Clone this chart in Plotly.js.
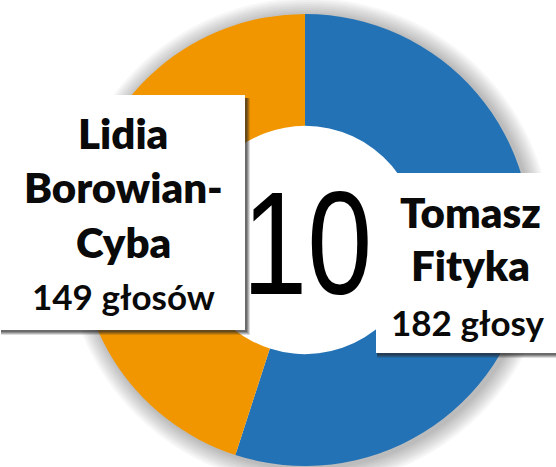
<!DOCTYPE html>
<html>
<head>
<meta charset="utf-8">
<script src="https://cdn.plot.ly/plotly-3.0.1.min.js"></script>
<style>
html,body{margin:0;padding:0;background:#fff;}
#chart{width:556px;height:467px;}
</style>
</head>
<body>
<div id="chart"></div>
<script>
// ---- data ----
const candidates = ["Tomasz Fityka", "Lidia Borowian-Cyba"];
const nameLines = [["Tomasz", "Fityka"], ["Lidia", "Borowian-", "Cyba"]];
const votes = [182, 149];
const voteWords = ["głosy", "głosów"];
const centerLabel = "10";
const sliceColors = ["#2372B5", "#F29600"];

// ---- layout helpers (pixel -> paper) ----
const W = 556, H = 467;
const px = x => x / W;
const py = y => 1 - y / H;

const cx = 305, cy = 240, R = 226;

const shapes = [];
// soft halo around ring
for (let i = 1; i <= 9; i++) {
  const r = R + i * 2;
  shapes.push({type: "circle", xref: "paper", yref: "paper", layer: "below",
    x0: px(cx - r + 3), x1: px(cx + r + 3), y0: py(cy + r + 2), y1: py(cy - r + 2),
    fillcolor: "rgba(0,0,0,0.03)", line: {width: 0}});
}
// keep the hole white
shapes.push({type: "circle", xref: "paper", yref: "paper", layer: "below",
  x0: px(cx - R + 2), x1: px(cx + R - 2), y0: py(cy + R - 2), y1: py(cy - R + 2),
  fillcolor: "#ffffff", line: {width: 0}});
// boxes with shadow
function box(x0, y0, x1, y1) {
  for (let i = 4; i >= 1; i--) {
    shapes.push({type: "rect", xref: "paper", yref: "paper", layer: "above",
      x0: px(x0 + 1), x1: px(x1 + i + 1), y0: py(y1 + i + 1), y1: py(y0 + 3),
      fillcolor: "rgba(40,40,40," + (0.16 + 0.06 * (4 - i)) + ")", line: {width: 0}});
  }
  shapes.push({type: "rect", xref: "paper", yref: "paper", layer: "above",
    x0: px(x0), x1: px(x1), y0: py(y1), y1: py(y0),
    fillcolor: "#ffffff", line: {width: 0}});
}
box(0, 95, 245, 330);
box(376, 173, 570, 353);

const annotations = [];
function line(text, x, y, size, weight) {
  annotations.push({text: text, xref: "paper", yref: "paper", x: px(x), y: py(y),
    xanchor: "center", yanchor: "middle", showarrow: false,
    font: {family: "Lato, 'Open Sans', sans-serif", size: size, color: "#0a0a0a", weight: weight}});
}
// left label (Lidia)
const leftY = [133, 187, 242];
nameLines[1].forEach((t, i) => line(t, 123, leftY[i], 42, 800));
line(votes[1] + " " + voteWords[1], 123, 296, 35, 700);
// right label (Tomasz)
const rightY = [212, 265];
nameLines[0].forEach((t, i) => line(t, 470, rightY[i], 42, 800));
line(votes[0] + " " + voteWords[0], 468, 322, 35, 700);
// center number
annotations.push({text: centerLabel, xref: "paper", yref: "paper", x: px(307), y: py(244),
  xanchor: "center", yanchor: "middle", showarrow: false,
  font: {family: "'Liberation Sans', sans-serif", size: 146, color: "#000"}});

const trace = {
  type: "pie",
  labels: candidates,
  values: votes,
  sort: false,
  direction: "clockwise",
  rotation: 0,
  hole: 0.505,
  marker: {colors: sliceColors, line: {width: 0}},
  textinfo: "none",
  hoverinfo: "label+value",
  domain: {x: [px(cx - R), px(cx + R)], y: [py(cy + R), py(cy - R)]}
};

Plotly.newPlot("chart", [trace], {
  width: W, height: H,
  margin: {l: 0, r: 0, t: 0, b: 0},
  paper_bgcolor: "#ffffff",
  showlegend: false,
  shapes: shapes,
  annotations: annotations
}, {displayModeBar: false, staticPlot: true}).then(gd => {
  // the reference draws the centre number in a narrow face
  gd.querySelectorAll(".annotation-text").forEach(t => {
    if (t.textContent === centerLabel) {
      t.style.transformBox = "fill-box";
      t.style.transformOrigin = "center";
      t.style.transform = "scaleX(0.8)";
    }
  });
});
</script>
</body>
</html>
